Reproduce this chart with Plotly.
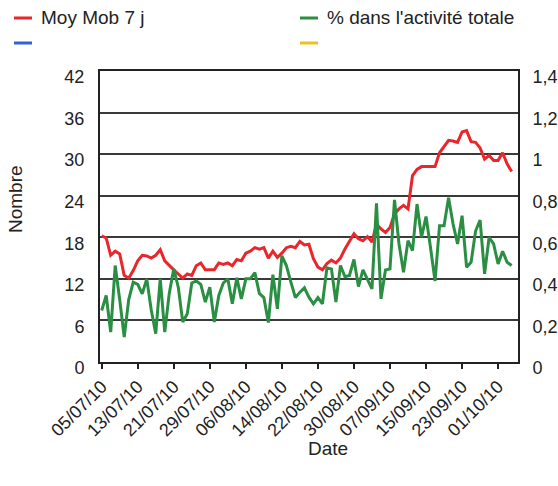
import pandas as pd
import plotly.graph_objects as go

# ---- data ----
start_date = "2010-07-05"
moy_mob_7j = [18.2, 17.9, 15.4, 16.0, 15.6, 12.5, 12.1, 13.2, 14.6, 15.4,
              15.3, 15.0, 15.4, 16.2, 14.6, 13.9, 13.3, 12.7, 12.1, 12.7,
              12.5, 13.9, 14.3, 13.3, 13.3, 13.3, 14.3, 14.1, 14.3, 13.9,
              14.8, 14.6, 15.7, 16.0, 16.5, 16.3, 16.5, 15.0, 16.0, 15.1,
              15.7, 16.5, 16.7, 16.5, 17.4, 16.9, 17.0, 14.9, 13.7, 13.3,
              14.2, 14.7, 14.3, 15.0, 16.3, 17.5, 18.5, 17.8, 17.5, 18.1,
              17.3, 19.9, 19.2, 18.7, 19.4, 21.4, 22.1, 22.6, 22.1, 26.9,
              27.8, 28.2, 28.2, 28.2, 28.2, 30.2, 31.2, 32.0, 31.9, 31.7,
              33.2, 33.4, 31.8, 31.7, 30.9, 29.3, 29.8, 29.1, 29.1, 30.2,
              28.6, 27.5]
pct_activite = [0.248, 0.32, 0.144, 0.464, 0.30, 0.12, 0.30, 0.384, 0.373, 0.328,
                0.40, 0.25, 0.136, 0.40, 0.144, 0.33, 0.448, 0.36, 0.192, 0.232,
                0.38, 0.39, 0.373, 0.288, 0.36, 0.192, 0.32, 0.38, 0.40, 0.28,
                0.405, 0.304, 0.40, 0.40, 0.43, 0.33, 0.31, 0.19, 0.42, 0.256,
                0.51, 0.464, 0.384, 0.31, 0.336, 0.357, 0.312, 0.28, 0.31, 0.28,
                0.453, 0.448, 0.288, 0.464, 0.41, 0.416, 0.493, 0.363, 0.443, 0.40,
                0.352, 0.763, 0.304, 0.443, 0.448, 0.78, 0.568, 0.432, 0.584, 0.536,
                0.76, 0.60, 0.70, 0.55, 0.39, 0.656, 0.656, 0.79, 0.664, 0.568,
                0.704, 0.456, 0.48, 0.63, 0.683, 0.424, 0.60, 0.568, 0.472, 0.533,
                0.48, 0.464]
x_tick_dates = ["2010-07-05", "2010-07-13", "2010-07-21", "2010-07-29",
                "2010-08-06", "2010-08-14", "2010-08-22", "2010-08-30",
                "2010-09-07", "2010-09-15", "2010-09-23", "2010-10-01"]
left_ticks = [0, 6, 12, 18, 24, 30, 36, 42]
right_ticks = [0, 0.2, 0.4, 0.6, 0.8, 1.0, 1.2, 1.4]
series_names = ["Moy Mob 7 j", "% dans l'activité totale", "", ""]
series_colors = ["#e8262b", "#2a8f43", "#2f62d9", "#f0c020"]

dates = pd.date_range(start_date, periods=len(moy_mob_7j), freq="D")

FONT = "Liberation Sans, Arial, sans-serif"
TXT = "#222222"

fig = go.Figure()
fig.add_trace(go.Scatter(x=dates, y=moy_mob_7j, mode="lines", name=series_names[0],
                         line=dict(color=series_colors[0], width=3), yaxis="y"))
fig.add_trace(go.Scatter(x=dates, y=pct_activite, mode="lines", name=series_names[1],
                         line=dict(color=series_colors[1], width=3), yaxis="y2"))

W, H = 558, 486
L, R, T, B = 100, 40, 71, 124
pw, ph = W - L - R, H - T - B


def px_x(px):
    return (px - L) / pw


def px_y(py):
    return (H - B - py) / ph


# manual legend (two columns, two rows)
legend_pos = [(14, 18), (300, 18), (14, 43), (300, 43)]
shapes = []
annotations = []
for (lx, ly), name, col in zip(legend_pos, series_names, series_colors):
    shapes.append(dict(type="line", xref="paper", yref="paper",
                       x0=px_x(lx), x1=px_x(lx + 18), y0=px_y(ly), y1=px_y(ly),
                       line=dict(color=col, width=3)))
    if name:
        annotations.append(dict(text=name, xref="paper", yref="paper",
                                x=px_x(lx + 25), y=px_y(ly), xanchor="left", yanchor="middle",
                                showarrow=False, font=dict(family=FONT, size=19, color=TXT)))

annotations.append(dict(text="Nombre", xref="paper", yref="paper",
                        x=px_x(15), y=px_y(199), textangle=-90,
                        xanchor="center", yanchor="middle", showarrow=False,
                        font=dict(family=FONT, size=19, color=TXT)))
annotations.append(dict(text="Date", xref="paper", yref="paper",
                        x=px_x(328), y=px_y(448),
                        xanchor="center", yanchor="middle", showarrow=False,
                        font=dict(family=FONT, size=19, color=TXT)))

fig.update_layout(
    template="none",
    width=W, height=H,
    margin=dict(l=L, r=R, t=T, b=B, pad=0, autoexpand=False),
    paper_bgcolor="white", plot_bgcolor="white",
    separators=", ",
    showlegend=False,
    font=dict(family=FONT, size=18, color=TXT),
    shapes=shapes,
    annotations=annotations,
    xaxis=dict(
        type="date", automargin=False,
        range=["2010-07-04 15:00", "2010-10-05 10:00"],
        tickmode="array", tickvals=x_tick_dates, tickformat="%d/%m/%y",
        tickangle=-45, ticks="outside", ticklen=5, tickwidth=2, tickcolor="#222",
        showline=True, linewidth=2, linecolor="#222", mirror=True,
        showgrid=False, zeroline=False,
        tickfont=dict(family=FONT, size=18, color=TXT),
    ),
    yaxis=dict(
        automargin=False,
        range=[0, 42], tickmode="array", tickvals=left_ticks,
        showgrid=True, gridcolor="#3a3a3a", gridwidth=2,
        showline=True, linewidth=2, linecolor="#222",
        zeroline=False, ticks="",
        ticklabelstandoff=10, ticklabelshift=6,
        tickfont=dict(family=FONT, size=18, color=TXT),
    ),
    yaxis2=dict(
        automargin=False,
        range=[0, 1.4], tickmode="array", tickvals=right_ticks,
        overlaying="y", side="right",
        showgrid=False, showline=True, linewidth=2, linecolor="#222",
        zeroline=False, ticks="",
        ticklabelstandoff=9, ticklabelshift=6,
        tickfont=dict(family=FONT, size=18, color=TXT),
    ),
)

fig.write_html(
    "out.html",
    config={"displayModeBar": False},
    post_script="document.body.style.margin='0px';document.body.style.padding='0px';",
)
